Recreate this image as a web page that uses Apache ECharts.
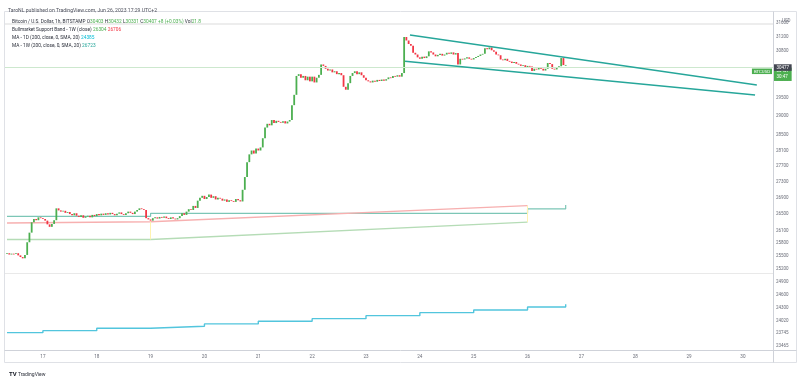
<!DOCTYPE html>
<html>
<head>
<meta charset="utf-8">
<script src="https://cdn.jsdelivr.net/npm/echarts@6/dist/echarts.min.js"></script>
<style>
html, body { margin: 0; padding: 0; background: #fff; }
#chart { width: 800px; height: 378px; }
</style>
</head>
<body>
<div id="chart"></div>
<script>
// x = hours since Jun 16 00:00, y = price (drawn on a log scale)
var firstHour = 8;
var firstOpen = 25540;

// hourly closes, Jun 16 08:00 .. Jun 26 17:00
var closes = [
  25560, 25530, 25550, 25540, 25560, 25510, 25470, 25440, 25520, 25820, 26050, 26300, 26380, 26350, 26420, 26400,
  26380, 26340, 26250, 26190, 26260, 26350, 26640, 26590, 26560, 26580, 26530, 26550, 26500, 26470, 26520, 26460, 26430, 26470, 26410, 26440, 26460, 26420, 26480, 26450,
  26500, 26470, 26510, 26480, 26520, 26490, 26530, 26500, 26470, 26510, 26540, 26500, 26480, 26520, 26560, 26530, 26500, 26560, 26600, 26640, 26620, 26600, 26400, 26370,
  26340, 26400, 26420, 26390, 26430, 26410, 26440, 26400, 26380, 26420, 26390, 26370, 26400, 26450, 26520, 26480, 26560, 26620, 26600, 26700, 26650, 26830, 26900, 26950,
  26870, 26920, 26980, 26900, 26940, 26860, 26900, 26880, 26830, 26860, 26800, 26840, 26820, 26800, 26870, 26840, 26810, 27100, 27420, 27800, 28000, 28100, 28020, 28150,
  28100, 28180, 28420, 28700, 28800, 28760, 28900, 28820, 28880, 28850, 28830, 28870, 28810, 28860, 28900, 29300, 29580, 30100, 30150, 30050, 30100, 29980, 30080, 29950,
  30080, 29920, 30050, 30130, 30420, 30380, 30300, 30250, 30280, 30200, 30230, 30150, 30180, 30120, 29800, 29720, 29900, 30100, 30180, 30230, 30150, 30200, 30120, 30050,
  29980, 29950, 29920, 29970, 29940, 29990, 29960, 30000, 29970, 30010, 30060, 30040, 30100, 30080, 30120, 30080, 30180, 31200, 31100, 31000, 30950, 30750, 30700, 30620,
  30580, 30640, 30600, 30650, 30790, 30760, 30700, 30650, 30690, 30720, 30670, 30700, 30750, 30720, 30760, 30700, 30740, 30420, 30580, 30560, 30590, 30620, 30580, 30560,
  30600, 30630, 30660, 30700, 30720, 30880, 30850, 30900, 30820, 30780, 30700, 30680, 30560, 30540, 30580, 30520, 30500, 30460, 30490, 30440, 30420, 30380, 30400, 30350,
  30380, 30360, 30240, 30300, 30280, 30330, 30300, 30250, 30300, 30460, 30430, 30300, 30280, 30330, 30370, 30600, 30403, 30407
];
// wick length above the body top / below the body bottom
var wickUp = [
  20, 25, 15, 20, 30, 15, 20, 25, 40, 60, 50, 40, 30, 35, 25, 30,
  25, 20, 20, 30, 25, 40, 140, 40, 30, 25, 20, 30, 25, 20, 30, 25, 20, 30, 20, 25, 30, 20, 25, 20,
  30, 20, 25, 20, 30, 25, 35, 20, 25, 30, 40, 25, 20, 30, 35, 25, 20, 30, 40, 50, 30, 25, 30, 25,
  30, 25, 20, 30, 25, 20, 30, 25, 20, 25, 20, 25, 30, 40, 50, 40, 60, 50, 40, 60, 350, 80, 60, 50,
  40, 35, 30, 40, 30, 35, 40, 30, 25, 30, 35, 30, 25, 30, 40, 30, 200, 60, 80, 70, 60, 50, 60, 50,
  60, 50, 70, 100, 180, 60, 80, 50, 60, 40, 50, 60, 50, 300, 60, 80, 100, 120, 550, 80, 60, 70, 60, 50,
  70, 60, 50, 60, 80, 60, 50, 40, 50, 40, 50, 40, 50, 40, 50, 60, 70, 60, 50, 60, 40, 50, 40, 40,
  40, 30, 40, 35, 30, 40, 30, 35, 30, 40, 35, 30, 40, 30, 35, 40, 50, 220, 100, 80, 60, 60, 50, 50,
  40, 50, 40, 45, 60, 50, 40, 35, 40, 45, 35, 40, 50, 40, 45, 35, 40, 40, 50, 40, 35, 40, 35, 40,
  35, 40, 35, 40, 45, 60, 50, 50, 45, 40, 45, 40, 45, 40, 35, 40, 35, 40, 35, 40, 35, 40, 35, 40,
  40, 35, 40, 45, 35, 40, 35, 40, 45, 50, 40, 35, 40, 35, 40, 50, 30, 25
];
var wickDn = [
  25, 15, 20, 25, 15, 30, 20, 40, 220, 50, 40, 60, 30, 25, 30, 20,
  20, 30, 25, 40, 20, 25, 30, 30, 25, 20, 30, 20, 25, 30, 20, 25, 35, 20, 30, 20, 25, 30, 20, 25,
  20, 25, 20, 30, 20, 25, 20, 30, 25, 20, 25, 30, 25, 20, 25, 30, 25, 20, 25, 20, 30, 25, 40, 30,
  100, 20, 25, 20, 30, 25, 20, 30, 25, 20, 30, 25, 20, 25, 30, 40, 30, 40, 50, 30, 40, 30, 40, 30,
  30, 40, 35, 30, 40, 30, 25, 35, 40, 30, 35, 30, 40, 35, 30, 40, 30, 40, 60, 50, 60, 50, 40, 50,
  50, 60, 50, 60, 70, 50, 60, 50, 40, 50, 60, 40, 50, 40, 50, 60, 80, 100, 80, 120, 80, 100, 90, 80,
  60, 80, 50, 40, 50, 60, 50, 60, 50, 40, 50, 40, 50, 40, 150, 80, 60, 50, 40, 50, 40, 50, 60, 50,
  40, 35, 50, 30, 40, 35, 30, 40, 35, 30, 40, 35, 30, 40, 30, 40, 50, 60, 80, 70, 60, 80, 60, 50,
  50, 40, 45, 35, 40, 50, 45, 40, 35, 40, 45, 35, 40, 45, 35, 40, 45, 40, 40, 35, 40, 35, 40, 35,
  40, 35, 40, 35, 40, 50, 45, 50, 40, 45, 40, 45, 50, 40, 45, 40, 45, 40, 45, 40, 45, 40, 50, 40,
  40, 45, 100, 40, 45, 35, 40, 45, 40, 35, 40, 50, 40, 45, 40, 35, 20, 72
];

// MA 200 on the daily chart (steps each day)
var dayMaHours = [8, 24, 48, 72, 96, 120, 144, 168, 192, 216, 240, 257];
var dayMaValues = [23755, 23799, 23852, 23896, 23947, 24006, 24064, 24130, 24197, 24257, 24325, 24385];
// MA 200 on the weekly chart
var weekMaHours = [8, 72, 240, 257];
var weekMaValues = [26446, 26519, 26625, 26723];
// bull market support band
var bandHours = [8, 72, 240];
var bandUpper = [26283, 26314, 26706];
var bandLower = [25887, 25887, 26304];
// falling channel drawn on the chart
var chanUpperHours = [187.6, 342.2];
var chanUpper = [31257, 29849];
var chanLowerHours = [185.4, 341.4];
var chanLower = [30509, 29575];
// horizontal levels
var grayLevels = [31450, 25190];
var tagLevel = 30477;

var dayTickHours = [24, 48, 72, 96, 120, 144, 168, 192, 216, 240, 264, 288, 312, 336];
var dayTickLabels = ['17', '18', '19', '20', '21', '22', '23', '24', '25', '26', '27', '28', '29', '30'];
var priceTicks = [31600, 31200, 30800, 30000, 29500, 29000, 28500, 28100, 27700, 27300, 26900, 26500,
  26100, 25800, 25500, 25200, 24900, 24600, 24300, 24020, 23745, 23465];

var lastOHLC = [30403, 30432, 30331, 30407];

var L = Math.log;
var UP = '#4caf50', DOWN = '#f23645';
var WICK_UP = 'rgba(130,170,200,0.6)', WICK_DOWN = 'rgba(242,54,69,0.4)';
var FONT = 'Roboto';

var candleData = [];
for (var i = 0; i < closes.length; i++) {
  var o = i === 0 ? firstOpen : closes[i - 1];
  var c = closes[i];
  var top = Math.max(o, c), bot = Math.min(o, c);
  candleData.push([firstHour + i, L(o), L(c), L(bot - wickDn[i]), L(top + wickUp[i])]);
}
function pairs(hours, vals) {
  return hours.map(function (h, k) { return [h, L(vals[k])]; });
}
var lastClose = closes[closes.length - 1];

function renderCandle(params, api) {
  var h = api.value(0), o = api.value(1), c = api.value(2);
  var pO = api.coord([h, o]), pC = api.coord([h, c]);
  var pL = api.coord([h, api.value(3)]), pH = api.coord([h, api.value(4)]);
  var up = c >= o;
  var x = pO[0];
  var yTop = Math.min(pO[1], pC[1]);
  var bh = Math.max(Math.abs(pO[1] - pC[1]), 0.8);
  return {
    type: 'group',
    children: [
      { type: 'line', shape: { x1: x, y1: pH[1], x2: x, y2: pL[1] },
        style: { stroke: up ? WICK_UP : WICK_DOWN, lineWidth: 1 } },
      { type: 'rect', shape: { x: x - 0.9, y: yTop, width: 1.8, height: bh },
        style: { fill: up ? UP : DOWN } }
    ]
  };
}

var smallRich = function (extra) {
  var r = { d: { fontSize: 4.8, color: '#2a2e39', fontFamily: FONT } };
  for (var k in extra) r[k] = { fontSize: 4.8, color: extra[k], fontFamily: FONT };
  return r;
};

var myChart = echarts.init(document.getElementById('chart'));
var option = {
  backgroundColor: '#fff',
  animation: false,
  textStyle: { fontFamily: FONT },
  title: [
    { left: 3, top: 3, text: 'TaroNL published on TradingView.com, Jun 26, 2023 17:29 UTC+2',
      textStyle: { fontSize: 5.1, fontWeight: 'normal', color: '#50535e', fontFamily: FONT } },
    { left: 7, top: 14.5,
      text: '{d|Bitcoin / U.S. Dollar, 1h, BITSTAMP} {d|O}{g|' + lastOHLC[0] + '} {d|H}{g|' + lastOHLC[1] +
        '} {d|L}{g|' + lastOHLC[2] + '} {d|C}{g|' + lastOHLC[3] + '} {g|+8 (+0.03%)} {d|Vol}{g|21.8}',
      textStyle: { fontSize: 5, fontWeight: 'normal', rich: smallRich({ g: UP }) } },
    { left: 7, top: 22.5,
      text: '{d|Bullmarket Support Band - 1W (close)} {g|' + bandLower[2] + '} {r|' + bandUpper[2] + '}',
      textStyle: { fontSize: 5, fontWeight: 'normal', rich: smallRich({ g: UP, r: DOWN }) } },
    { left: 7, top: 30.8,
      text: '{d|MA - 1D (200, close, 0, SMA, 20)} {c|' + dayMaValues[dayMaValues.length - 1] + '}',
      textStyle: { fontSize: 5, fontWeight: 'normal', rich: smallRich({ c: '#00bcd4' }) } },
    { left: 7, top: 38.3,
      text: '{d|MA - 1W (200, close, 0, SMA, 20)} {c|' + weekMaValues[weekMaValues.length - 1] + '}',
      textStyle: { fontSize: 5, fontWeight: 'normal', rich: smallRich({ c: '#26a69a' }) } },
    { left: 777, top: 13.5, text: 'USD',
      textStyle: { fontSize: 4.5, fontWeight: 'normal', color: '#6a6d78', fontFamily: FONT } },
    { left: 4, top: 366.5, text: '{b|TV} {n|TradingView}',
      textStyle: { fontSize: 5, fontWeight: 'normal', rich: {
        b: { fontSize: 6, fontWeight: 'bold', color: '#131722', fontFamily: FONT },
        n: { fontSize: 5, color: '#2a2e39', fontFamily: FONT } } } }
  ],
  graphic: [
    { type: 'rect', silent: true, z: 0, shape: { x: 4.5, y: 11.5, width: 792, height: 351 },
      style: { fill: 'none', stroke: '#dfe1e6', lineWidth: 1 } },
    { type: 'line', silent: true, z: 0, shape: { x1: 773.5, y1: 11.5, x2: 773.5, y2: 362.5 },
      style: { stroke: '#cfd2d9', lineWidth: 1 } },
    { type: 'line', silent: true, z: 0, shape: { x1: 4.5, y1: 350.5, x2: 796.5, y2: 350.5 },
      style: { stroke: '#cfd2d9', lineWidth: 1 } }
  ],
  grid: { left: 5, right: 27, top: 12, bottom: 28, outerBoundsMode: 'none' },
  xAxis: {
    type: 'value', min: 7.11, max: 349.4,
    axisLine: { show: false }, axisTick: { show: false }, splitLine: { show: false },
    axisLabel: {
      customValues: dayTickHours, margin: 4, fontSize: 4.6, color: '#6a6d78', fontFamily: FONT,
      formatter: function (v) { return dayTickLabels[dayTickHours.indexOf(v)]; }
    }
  },
  yAxis: {
    type: 'value', position: 'right', min: L(23378), max: L(31928),
    axisLine: { show: false }, axisTick: { show: false }, splitLine: { show: false },
    axisLabel: {
      customValues: priceTicks.map(L), margin: 3, fontSize: 4.5, color: '#6a6d78', fontFamily: FONT,
      formatter: function (v) { return String(Math.round(Math.exp(v))); }
    }
  },
  series: [
    { name: 'MA 1D', type: 'line', step: 'end', showSymbol: false, data: pairs(dayMaHours, dayMaValues),
      lineStyle: { color: '#52c5dd', width: 1.4 }, z: 2 },
    { name: 'MA 1W', type: 'line', step: 'end', showSymbol: false, data: pairs(weekMaHours, weekMaValues),
      lineStyle: { color: '#7cc6b6', width: 1.2 }, z: 2 },
    { name: 'Band upper', type: 'line', showSymbol: false, data: pairs(bandHours, bandUpper),
      lineStyle: { color: '#f7b0b0', width: 1.4 }, z: 2 },
    { name: 'Band lower', type: 'line', showSymbol: false, data: pairs(bandHours, bandLower),
      lineStyle: { color: '#b5dcb6', width: 1.4 }, z: 2,
      markLine: {
        silent: true, symbol: ['none', 'none'], label: { show: false },
        lineStyle: { color: '#fff3b0', width: 1, type: 'solid' },
        data: [
          [{ coord: [bandHours[1], L(bandUpper[1])] }, { coord: [bandHours[1], L(bandLower[1])] }],
          [{ coord: [bandHours[2], L(bandUpper[2])] }, { coord: [bandHours[2], L(bandLower[2])] }]
        ]
      } },
    { name: 'BTCUSD', type: 'custom', renderItem: renderCandle, z: 3,
      encode: { x: 0, y: [1, 2, 3, 4] },
      data: candleData,
      markLine: {
        silent: true, symbol: ['none', 'none'],
        data: [
          { yAxis: L(grayLevels[0]), lineStyle: { color: '#ededed', width: 2, type: 'solid' }, label: { show: false } },
          { yAxis: L(grayLevels[1]), lineStyle: { color: '#e9e9e9', width: 1, type: 'solid' }, label: { show: false } },
          { yAxis: L(lastClose), lineStyle: { color: '#cde8ce', width: 1, type: 'solid' },
            label: { show: true, position: 'end', distance: 1, verticalAlign: 'top',
              formatter: lastClose + '\n30:47', backgroundColor: UP, color: '#fff',
              fontSize: 4.5, lineHeight: 6.2, padding: [0.5, 2.5, 0.5, 2.5], fontFamily: FONT } },
          { yAxis: L(lastClose), lineStyle: { color: 'rgba(0,0,0,0)', width: 0 },
            label: { show: true, position: 'insideEndBottom', distance: 1,
              formatter: 'BTCUSD', backgroundColor: UP, color: '#fff',
              fontSize: 4.3, padding: [1, 2, 0.5, 2], fontFamily: FONT } },
          { yAxis: L(tagLevel), lineStyle: { color: 'rgba(0,0,0,0)', width: 0 },
            label: { show: true, position: 'end', distance: 1,
              formatter: String(tagLevel), backgroundColor: '#434651', color: '#fff',
              fontSize: 4.5, padding: [0.8, 2.5, 0.8, 2.5], fontFamily: FONT } }
        ]
      } },
    { name: 'Channel upper', type: 'line', showSymbol: false, data: pairs(chanUpperHours, chanUpper),
      lineStyle: { color: '#26a69a', width: 1.4 }, z: 5 },
    { name: 'Channel lower', type: 'line', showSymbol: false, data: pairs(chanLowerHours, chanLower),
      lineStyle: { color: '#26a69a', width: 1.4 }, z: 5 }
  ]
};
myChart.setOption(option);
</script>
</body>
</html>
